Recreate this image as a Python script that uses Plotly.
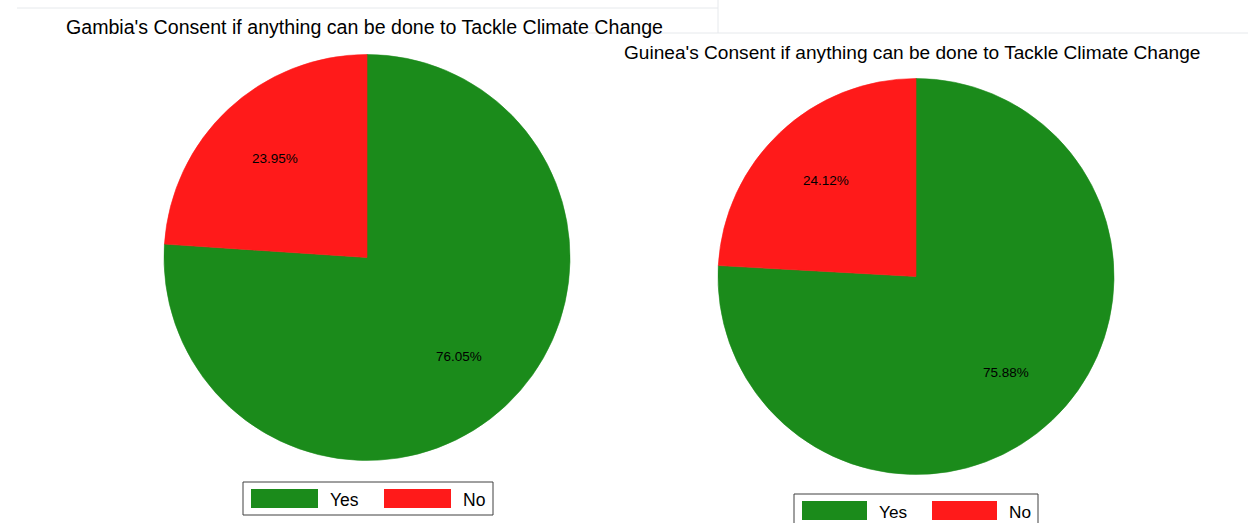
import math
import plotly.graph_objects as go

W, H = 1248, 523

labels = ["Yes", "No"]
colors = ["#1b8b1b", "#ff1a1a"]
gambia_values = [76.05, 23.95]
guinea_values = [75.88, 24.12]
titles = [
    "Gambia's Consent if anything can be done to Tackle Climate Change",
    "Guinea's Consent if anything can be done to Tackle Climate Change",
]

FONT = "Liberation Sans, Arial, sans-serif"

# pixel boxes (left, top, right, bottom) of each pie's domain
pie_boxes = [(164, 50, 570, 465), (718, 75, 1114, 478)]
title_pos = [(364, 27), (912, 52)]
title_size = [19.6, 19.1]
# legend: box (l, t, r, b), rect width, item spacing, text offset, font size
legend_boxes = [(243, 482, 493, 515), (794, 494, 1038, 530)]
legend_geom = [(67, 133, 77, 17.5), (65, 130, 75, 17.2)]

def px2x(px):
    return px / W

def px2y(py):
    return 1 - py / H

fig = go.Figure()
annotations = []
shapes = []

for i, vals in enumerate([gambia_values, guinea_values]):
    l, t, r, b = pie_boxes[i]
    fig.add_trace(go.Pie(
        labels=labels, values=vals, sort=False, direction="clockwise", rotation=0,
        marker=dict(colors=colors, line=dict(color=colors, width=0.6)),
        textinfo="none", hoverinfo="label+percent", showlegend=False,
        domain=dict(x=[px2x(l), px2x(r)], y=[px2y(b), px2y(t)]),
    ))
    # percentage labels along mid-angle of each slice
    cx, cy = (l + r) / 2, (t + b) / 2
    rad = min(r - l, b - t) / 2
    total = sum(vals)
    start = 0.0
    for v in vals:
        mid = start + v / total * 360 / 2
        start += v / total * 360
        a = math.radians(mid)
        x = cx + 0.665 * rad * math.sin(a)
        y = cy - 0.665 * rad * math.cos(a)
        annotations.append(dict(
            x=px2x(x), y=px2y(y), xref="paper", yref="paper",
            text=f"{v / total * 100:.2f}%", showarrow=False,
            font=dict(family=FONT, size=13.5, color="black"),
            xanchor="center", yanchor="middle",
        ))
    # title
    tx, ty = title_pos[i]
    annotations.append(dict(
        x=px2x(tx), y=px2y(ty), xref="paper", yref="paper", text=titles[i],
        showarrow=False, font=dict(family=FONT, size=title_size[i], color="black"),
        xanchor="center", yanchor="middle",
    ))
    # legend box
    bl, bt, br, bb = legend_boxes[i]
    rw, sp, to, fs = legend_geom[i]
    shapes.append(dict(type="rect", xref="paper", yref="paper",
                       x0=px2x(bl), x1=px2x(br), y0=px2y(bb), y1=px2y(bt),
                       line=dict(color="#404040", width=1), fillcolor="white", layer="above"))
    x0 = bl + 8
    for j, lab in enumerate(labels):
        rx0 = x0 + j * sp
        shapes.append(dict(type="rect", xref="paper", yref="paper",
                           x0=px2x(rx0), x1=px2x(rx0 + rw), y0=px2y(bt + 26), y1=px2y(bt + 7),
                           line=dict(width=0), fillcolor=colors[j], layer="above"))
        annotations.append(dict(
            x=px2x(rx0 + to), y=px2y(bt + 17.5), xref="paper", yref="paper", text=lab,
            showarrow=False, font=dict(family=FONT, size=fs, color="black"),
            xanchor="left", yanchor="middle",
        ))

# faint image borders
faint = "#e6e9ec"
for (xa, ya, xb, yb) in [(17, 8, 718, 8), (718, 0, 718, 33), (573, 33, 1248, 33)]:
    shapes.append(dict(type="line", xref="paper", yref="paper",
                       x0=px2x(xa), x1=px2x(xb), y0=px2y(ya), y1=px2y(yb),
                       line=dict(color=faint, width=1), layer="below"))

fig.update_layout(
    width=W, height=H, margin=dict(l=0, r=0, t=0, b=0),
    paper_bgcolor="white", plot_bgcolor="white",
    annotations=annotations, shapes=shapes, showlegend=False,
)

fig.write_html("out.html")
